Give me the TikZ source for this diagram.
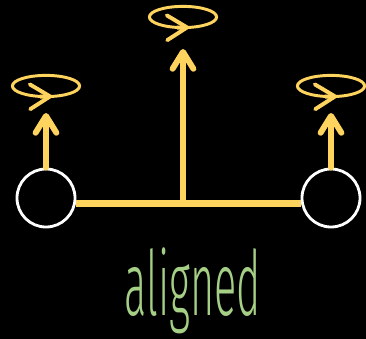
\documentclass[tikz,border=0pt]{standalone}
\usepackage{fontspec}
\usepackage{xcolor}
\usetikzlibrary{arrows.meta,positioning,shapes.geometric,calc}
\newfontfamily\labelfont[FakeStretch=0.46]{Fira Sans Light}
\definecolor{sun}{HTML}{FFD45E}
\definecolor{sage}{HTML}{A6CF86}
\tikzset{
  jointbox/.style={
    circle, draw=white, fill=black, line width=2pt,
    minimum size=1.45cm, inner sep=0pt
  },
  shaft/.style={
    -{Straight Barb[length=0.42cm, width=0.52cm, round]},
    line width=4.2pt, color=sun, line cap=round
  },
  beam/.style={
    line width=4.3pt, color=sun
  },
  spinring/.style={
    ellipse, draw=sun, line width=2.1pt,
    minimum width=1.68cm, minimum height=0.53cm, inner sep=0pt
  },
  spintip/.style={
    -{Straight Barb[length=0.5cm, width=0.62cm, round]},
    line width=2.8pt, color=sun
  },
  labeltext/.style={
    font=\labelfont\fontsize{64}{68}\selectfont, color=sage, anchor=base
  },
}
\begin{document}
\begin{tikzpicture}[x=0.025cm, y=-0.025cm]
  \fill[black] (0,0) rectangle (366,339);
  \useasboundingbox (0,0) rectangle (366,339);

  \node[jointbox] (j1) at (46,198) {};
  \node[jointbox] (j2) at (331,198) {};
  \coordinate (mid) at (183,203.5);
  \coordinate (t1) at (46,113);
  \coordinate (t2) at (183,49);
  \coordinate (t3) at (331,113);

  \draw[beam] (j1.east |- mid) -- (j2.west |- mid);
  \draw[shaft] (j1.north) -- (t1);
  \draw[shaft] (mid) -- (t2);
  \draw[shaft] (j2.north) -- (t3);

  \node[spinring] (r1) at (46,86) {};
  \node[spinring] (r2) at (183,17) {};
  \node[spinring] (r3) at (331,86) {};
  \draw[spintip] ($(r1.center)+(-6,10.6)$) -- ($(r1.center)+(6,10.4)$);
  \draw[spintip] ($(r2.center)+(-6,10.6)$) -- ($(r2.center)+(6,10.4)$);
  \draw[spintip] ($(r3.center)+(-6,10.6)$) -- ($(r3.center)+(6,10.4)$);

  \node[labeltext] (lbl) at (193,315) {aligned};
\end{tikzpicture}
\end{document}
